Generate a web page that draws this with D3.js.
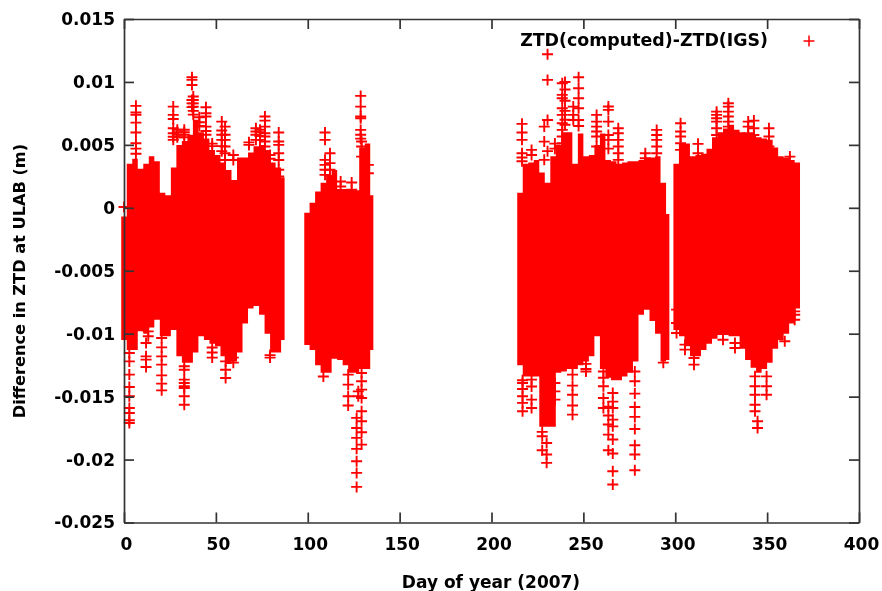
<!DOCTYPE html>
<html lang="en">
<head>
    <meta charset="UTF-8">
    <title>ZTD difference at ULAB</title>
    <script src="https://d3js.org/d3.v7.min.js"></script>
    <style>
        html, body { margin: 0; padding: 0; background: white; }
        svg { display: block; filter: blur(0.5px); }
        text { font-family: "DejaVu Sans", sans-serif; font-weight: bold; fill: black; }
        .tick text { font-size: 17px; }
        .tick line, .domain { stroke: #333; stroke-width: 1.7px; }
    </style>
</head>
<body>
    <div id="chart"></div>
    <script>
        // tick labels
        const xTicks = [0, 50, 100, 150, 200, 250, 300, 350, 400];
        const yTicks = [0.015, 0.01, 0.005, 0, -0.005, -0.01, -0.015, -0.02, -0.025];

        // solid part of each data block, read as columns: day, top of the mass, bottom of the mass
        const daysA = [-1.5,1.5,4.5,7.5,10.5,13.5,16.5,19.5,22.5,25.5,28.5,31.5,34.5,37.5,40.5,43.5,46.5,49.5,52.5,55.5,58.5,61.5,64.5,67.5,70.5,73.5,76.5,79.5,82.5,85.5,87.4];
        const highA = [-0.0007,0.0035,0.0039,0.0031,0.0035,0.0041,0.0037,0.0012,0.001,0.0032,0.005,0.0053,0.0058,0.007,0.006,0.0055,0.0046,0.0042,0.0036,0.003,0.0022,0.004,0.004,0.0044,0.0049,0.005,0.0046,0.0036,0.0032,0.0024,0.0024];
        const lowA = [-0.0105,-0.0113,-0.0113,-0.0098,-0.01,-0.0095,-0.0089,-0.0102,-0.0102,-0.0097,-0.0118,-0.0123,-0.0123,-0.0115,-0.0102,-0.0105,-0.0108,-0.011,-0.0118,-0.0124,-0.0122,-0.0115,-0.0092,-0.008,-0.0078,-0.0085,-0.01,-0.0115,-0.0115,-0.0105,-0.0105];

        const daysB = [98.1,101,104,107,110,113,116,119,122,125,128,131,134,135.7];
        const highB = [-0.0004,0.0004,0.0013,0.002,0.0026,0.003,0.0015,0.0015,0.0015,0.0014,0.0048,0.0051,0.001,0.001];
        const lowB = [-0.0109,-0.0113,-0.0125,-0.0131,-0.0131,-0.012,-0.0121,-0.0125,-0.0131,-0.0131,-0.0128,-0.0128,-0.0113,-0.0113];

        const daysC = [214,217,220,223,226,229,232,235,238,241,244,247,250,253,256,259,262,265,268,271,274,277,280,283,286,289,292,295,296.8];
        const highC = [0.0012,0.0035,0.0036,0.0038,0.0028,0.002,0.0041,0.005,0.006,0.006,0.0035,0.0059,0.0041,0.0042,0.005,0.0059,0.0038,0.0037,0.0035,0.0036,0.0037,0.0037,0.0038,0.0039,0.004,0.0041,0.002,-0.0005,-0.0005];
        const lowC = [-0.0125,-0.0134,-0.0134,-0.0134,-0.0174,-0.0174,-0.0174,-0.0131,-0.013,-0.0128,-0.0128,-0.0125,-0.0122,-0.0118,-0.0102,-0.0128,-0.0135,-0.0137,-0.0137,-0.0134,-0.0131,-0.0122,-0.0085,-0.0081,-0.009,-0.01,-0.0122,-0.0121,-0.0121];

        const daysD = [299,302,305,308,311,314,317,320,323,326,329,332,335,338,341,344,347,350,353,356,359,362,365,367.9];
        const highD = [0.0035,0.0051,0.0051,0.0041,0.0042,0.0043,0.0047,0.0056,0.006,0.0063,0.0066,0.0062,0.006,0.0059,0.0058,0.0056,0.0055,0.0054,0.0048,0.0041,0.004,0.0038,0.0036,0.0036];
        const lowD = [-0.0097,-0.0102,-0.011,-0.0118,-0.0118,-0.0113,-0.0108,-0.0104,-0.0101,-0.0101,-0.0102,-0.0102,-0.0112,-0.0121,-0.0127,-0.0131,-0.0128,-0.0123,-0.0112,-0.0105,-0.01,-0.0092,-0.008,-0.008];

        // individual points that stick out of the solid part
        const spikeDays = [0, 2.9, 6.5, 12, 13.2, 20.5, 26.8, 29, 32.8, 37, 37.7, 41, 44.6, 48, 53.2, 55, 55.3, 59.5, 68, 71.8, 74, 76.7, 79.5, 84.2,
            108.5, 109.4, 112.1, 117.9, 122, 123.9, 126.6, 127.5, 128.8, 129.3, 133,
            216.6, 216.9, 221.8, 227.6, 228.7, 230, 230.5, 234.5, 238.5, 240, 244.1, 244.5, 247.4, 251.4, 257.2, 260.9, 263.6, 266, 269, 278, 283.7, 289.9, 293.5,
            300.7, 302.9, 305.3, 310.2, 312.4, 322.5, 326, 328.9, 332.5, 339.7, 342.8, 343.4, 344.8, 349.7, 351, 359.6, 362.4, 365];
        const spikeValues = [
            [0.00006],
            [-0.01154,-0.0122,-0.01325,-0.01423,-0.01497,-0.0159,-0.0163,-0.01688,-0.01709],
            [0.0081,0.00757,0.00738,0.00677,0.00598,0.00513,0.0047,0.0043],
            [-0.01074,-0.0118,-0.01206,-0.01265],
            [-0.0092,-0.00982,-0.0102],
            [-0.01034,-0.01109,-0.0118,-0.01246,-0.01331,-0.01397,-0.0145],
            [0.00804,0.00738,0.00706,0.00632,0.00592,0.00565,0.0054],
            [0.0062,0.006,0.0058,0.0056],
            [-0.01259,-0.01286,-0.01365,-0.01392,-0.01418,-0.01431,-0.01497,-0.01564,0.0062,0.006,0.0058,0.0056],
            [0.01037,0.01016,0.00976,0.00857,0.0083,0.008],
            [0.00884,0.00857,0.0083,0.00804,0.0077,0.0074],
            [0.0072,0.0068,0.0065],
            [0.00799,0.00751,0.00725,0.00645,0.0061,0.0058],
            [0.0051,0.0049,-0.0111,-0.0115,-0.0119],
            [0.00685,0.00614,0.0058,0.0054,0.0049,0.0045],
            [0.00645,0.0058,0.0054,0.00487,0.00434,0.0038],
            [-0.0122,-0.01286,-0.01352],
            [-0.0119,-0.0123,0.0042,0.0038],
            [0.0052,0.005],
            [0.00632,0.00606,0.0054,0.0058],
            [0.0062,0.006,0.0057,0.0054],
            [0.00725,0.00693,0.00645,0.00592,0.00566,0.00527,0.00487],
            [-0.0117,-0.0119,0.0042,0.0039],
            [0.00598,0.00527,0.005,0.00434,0.0038,0.00302,0.00249],
            [-0.0134],
            [0.00598,0.0054,0.00381,0.00341,0.00302,0.00262],
            [0.00434,0.00355,0.00302],
            [0.00209,0.00169],
            [-0.01325,-0.01405,-0.01497,-0.01571],
            [0.00201,0.00143],
            [-0.01669,-0.01749,-0.01828,-0.01915,-0.02013,-0.02106,-0.02217],
            [-0.01458,-0.01497],
            [0.00889,0.00804,0.00725,0.00712,0.00619,0.0058,0.0055],
            [0.00527,0.00487,0.00407,-0.01312,-0.01378,-0.01444,-0.01511,-0.01616,-0.01696,-0.01783,-0.01881],
            [0.00341,0.00275],
            [0.00667,0.00598,0.0054,0.00434,0.004,0.0037],
            [-0.01392,-0.01497,-0.0155,-0.01616,-0.0144,-0.0137],
            [-0.01365,-0.01524,-0.0159,-0.0142,0.0046,0.0042],
            [-0.01815,-0.01926,-0.0178],
            [0.00645,0.00526,0.00381],
            [-0.01868,-0.0196,-0.02026],
            [0.0122,0.01016,0.00698,0.0045],
            [-0.01392,-0.01458,-0.01524,0.0051,0.0047],
            [0.00989,0.00897,0.0087,0.00791,0.00738,0.00672,0.00619,0.00566,0.00513],
            [0.01,0.0094,0.0085,0.0077,0.007,0.0066],
            [-0.01325,-0.01413,-0.01485,-0.01571,-0.01643],
            [0.00804,0.00738,0.00698],
            [0.01037,0.0095,0.0087,0.00791,0.00698,0.0065],
            [-0.013,-0.0124,-0.0128],
            [0.00738,0.00685,0.00645,0.00606,0.00566,0.00487],
            [-0.01418,-0.01511,-0.0159,-0.0135,-0.013],
            [0.00805,0.00778,0.00685,0.00579,0.0054,0.0047,-0.01722,-0.01802,-0.01926,-0.0165,-0.0158],
            [-0.01471,-0.0159,-0.01683,-0.01736,-0.01841,-0.01952,-0.02093,-0.02198,-0.0154],
            [0.00632,0.00592,0.0054,0.00487,0.00434,0.00381],
            [-0.01378,-0.01476,-0.01582,-0.01661,-0.01757,-0.01886,-0.0196,-0.02085,-0.013],
            [0.00434,0.00394,0.00355],
            [0.00619,0.00579,0.0054,0.00487,0.00434],
            [-0.0123],
            [-0.00809,-0.00915,-0.00995],
            [0.00672,0.00606,0.00566,0.00513,0.0046],
            [-0.01087,-0.01127],
            [-0.01193,-0.01246],
            [0.00508,0.00434],
            [0.00764,0.00738,0.00712,0.00685,0.00632,0.00579],
            [-0.01048],
            [0.00831,0.00804,0.00764,0.00725,0.00685,0.00645],
            [-0.01074,-0.01114],
            [0.00685,0.00645,0.00592],
            [0.00693,0.00632,0.00579],
            [-0.01339,-0.01418,-0.01485,-0.01564,-0.01616],
            [-0.01696,-0.01749],
            [-0.01339,-0.01418,-0.01485],
            [0.00632,0.00566,0.00487],
            [-0.0106],
            [0.00407],
            [-0.00823,-0.00849,-0.00889]
        ];

        const width = 882, height = 591;
        const margin = { top: 19, right: 23, bottom: 68.5, left: 124 };
        const innerW = width - margin.left - margin.right;
        const innerH = height - margin.top - margin.bottom;

        const svg = d3.select("#chart").append("svg").attr("width", width).attr("height", height);
        const chart = svg.append("g").attr("transform", `translate(${margin.left},${margin.top})`);

        const x = d3.scaleLinear().domain([0, 400]).range([0, innerW]);
        const y = d3.scaleLinear().domain([-0.025, 0.015]).range([innerH, 0]);

        const red = "#ff0000";
        const plus = "M-5.5,0H5.5M0,-5.5V5.5";

        // solid mass of each block, stepped so the edge stays blocky like stacked markers
        const blocks = [[daysA, highA, lowA], [daysB, highB, lowB], [daysC, highC, lowC], [daysD, highD, lowD]];
        const mass = d3.area()
            .x(d => x(d[0])).y1(d => y(d[1])).y0(d => y(d[2]))
            .curve(d3.curveStepAfter);
        chart.selectAll(".block")
            .data(blocks.map(b => d3.zip(b[0], b[1], b[2])))
            .enter().append("path")
            .attr("class", "block")
            .attr("d", mass)
            .attr("fill", red);

        // + markers
        const points = spikeDays.flatMap((day, i) => spikeValues[i].map(v => [day, v]));
        chart.selectAll(".point")
            .data(points)
            .enter().append("path")
            .attr("class", "point")
            .attr("d", plus)
            .attr("transform", d => `translate(${x(d[0])},${y(d[1])})`)
            .attr("fill", "none")
            .attr("stroke", red)
            .attr("stroke-width", 1.9);

        // axes, ticks point inward on all four sides
        const fmt = d => String(d);
        const xAxis = chart.append("g").attr("transform", `translate(0,${innerH})`)
            .call(d3.axisBottom(x).tickValues(xTicks).tickFormat(fmt).tickSizeInner(-10).tickSizeOuter(0).tickPadding(15));
        xAxis.selectAll(".tick text").attr("dx", 2);
        chart.append("g")
            .call(d3.axisLeft(y).tickValues(yTicks).tickFormat(fmt).tickSizeInner(-10).tickSizeOuter(0).tickPadding(9));
        chart.append("g")
            .call(d3.axisTop(x).tickValues(xTicks).tickFormat("").tickSizeInner(-10).tickSizeOuter(0));
        chart.append("g").attr("transform", `translate(${innerW},0)`)
            .call(d3.axisRight(y).tickValues(yTicks).tickFormat("").tickSizeInner(-10).tickSizeOuter(0));

        // titles
        svg.append("text")
            .attr("x", 491).attr("y", 588)
            .attr("text-anchor", "middle")
            .style("font-size", "17px")
            .text("Day of year (2007)");
        svg.append("text")
            .attr("transform", "translate(25,281) rotate(-90)")
            .attr("text-anchor", "middle")
            .style("font-size", "16.2px")
            .text("Difference in ZTD at ULAB (m)");

        // legend
        svg.append("text")
            .attr("x", 768).attr("y", 46)
            .attr("text-anchor", "end")
            .style("font-size", "17.4px")
            .text("ZTD(computed)-ZTD(IGS)");
        svg.append("path")
            .attr("d", plus)
            .attr("transform", "translate(809,41)")
            .attr("fill", "none")
            .attr("stroke", red)
            .attr("stroke-width", 1.5);
    </script>
</body>
</html>
